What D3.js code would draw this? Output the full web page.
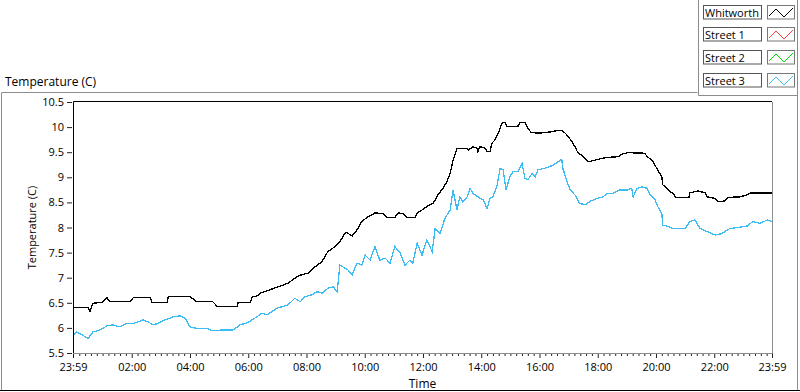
<!DOCTYPE html>
<html><head><meta charset="utf-8">
<script src="https://cdn.jsdelivr.net/npm/d3@7"></script>
<style>
body{margin:0;background:#fff}
svg{display:block;font-family:"Open Sans",sans-serif}
</style>
</head><body>
<svg id="c" width="800" height="392"></svg>
<script>
// minutes after 23:59 start, temperature (C)
const whitworth = [[0,6.41],[31,6.41],[35,6.33],[41,6.49],[60,6.51],[70,6.60],[76,6.52],[117,6.52],[124,6.60],[159,6.60],[163,6.50],[194,6.50],[196,6.62],[241,6.62],[247,6.58],[255,6.52],[288,6.52],[297,6.43],[338,6.43],[340,6.50],[365,6.50],[369,6.62],[381,6.64],[385,6.69],[400,6.74],[420,6.81],[443,6.89],[457,6.99],[468,7.05],[484,7.09],[498,7.21],[513,7.32],[525,7.52],[540,7.62],[550,7.72],[560,7.88],[564,7.90],[575,7.83],[585,7.95],[595,8.12],[606,8.20],[622,8.29],[639,8.28],[647,8.20],[663,8.20],[670,8.29],[680,8.28],[688,8.20],[705,8.20],[709,8.29],[721,8.36],[729,8.42],[742,8.48],[752,8.65],[762,8.78],[770,8.91],[777,9.08],[783,9.34],[791,9.58],[812,9.58],[814,9.54],[824,9.61],[832,9.58],[834,9.51],[838,9.61],[849,9.58],[853,9.51],[859,9.51],[863,9.68],[869,9.74],[876,9.88],[884,10.08],[890,10.09],[894,10.01],[917,10.02],[921,10.09],[931,10.09],[935,10.01],[944,9.89],[962,9.88],[989,9.91],[999,9.94],[1007,9.93],[1014,9.88],[1020,9.81],[1028,9.71],[1034,9.61],[1040,9.49],[1051,9.42],[1061,9.31],[1071,9.33],[1090,9.38],[1106,9.40],[1123,9.41],[1131,9.46],[1143,9.49],[1178,9.48],[1183,9.41],[1193,9.34],[1199,9.24],[1205,9.14],[1213,9.01],[1215,8.85],[1224,8.78],[1230,8.71],[1236,8.68],[1242,8.60],[1269,8.60],[1271,8.69],[1288,8.73],[1302,8.69],[1306,8.61],[1323,8.58],[1329,8.51],[1343,8.53],[1349,8.60],[1374,8.61],[1389,8.65],[1395,8.69],[1440,8.69]];
const street1 = [];
const street2 = [];
const street3 = [[0,5.86],[8,5.92],[19,5.86],[31,5.79],[41,5.92],[56,5.96],[70,6.04],[82,6.06],[97,6.02],[111,6.09],[124,6.09],[134,6.12],[144,6.16],[155,6.12],[165,6.06],[175,6.09],[190,6.16],[206,6.22],[220,6.24],[231,6.19],[241,6.02],[255,5.99],[276,5.99],[288,5.94],[309,5.96],[330,5.96],[344,6.06],[358,6.10],[371,6.17],[389,6.29],[400,6.26],[420,6.39],[443,6.46],[457,6.59],[468,6.52],[478,6.62],[492,6.66],[503,6.72],[513,6.69],[525,6.79],[536,6.82],[544,6.72],[550,7.25],[560,7.19],[567,7.15],[575,7.05],[585,7.29],[595,7.25],[602,7.45],[612,7.35],[622,7.62],[632,7.35],[643,7.39],[653,7.29],[663,7.62],[674,7.49],[684,7.25],[694,7.35],[700,7.29],[709,7.69],[719,7.45],[729,7.75],[740,7.52],[746,7.98],[756,7.88],[766,8.18],[777,8.35],[783,8.75],[791,8.35],[797,8.61],[803,8.51],[812,8.61],[818,8.78],[824,8.68],[834,8.61],[845,8.55],[853,8.38],[859,8.58],[865,8.61],[873,8.81],[880,9.18],[886,9.15],[892,8.75],[900,9.01],[906,9.11],[917,9.11],[925,9.28],[931,8.98],[937,8.95],[946,9.08],[952,9.01],[958,9.15],[972,9.18],[989,9.24],[1007,9.36],[1009,9.18],[1018,8.91],[1024,8.75],[1034,8.65],[1044,8.48],[1055,8.45],[1065,8.52],[1079,8.58],[1092,8.61],[1100,8.68],[1112,8.68],[1127,8.75],[1143,8.75],[1151,8.78],[1154,8.61],[1162,8.78],[1172,8.81],[1183,8.78],[1189,8.65],[1199,8.55],[1205,8.41],[1213,8.28],[1215,8.05],[1226,8.02],[1236,7.98],[1261,7.98],[1271,8.12],[1281,8.15],[1292,7.98],[1306,7.92],[1323,7.85],[1337,7.88],[1353,7.98],[1370,8.00],[1389,8.03],[1401,8.12],[1415,8.08],[1430,8.15],[1440,8.12]];

const seriesNames = ["Whitworth","Street 1","Street 2","Street 3"];
const seriesColors = ["#000000","#ff3c3c","#00dd00","#3dbcf4"];
const yTicks = [5.5,6,6.5,7,7.5,8,8.5,9,9.5,10,10.5];
const xTickLabels = ["23:59","02:00","04:00","06:00","08:00","10:00","12:00","14:00","16:00","18:00","20:00","22:00","23:59"];
const chartTitle = "Temperature (C)";
const yTitle = "Temperature (C)";
const xTitle = "Time";

const svg = d3.select("#c");
const L = 73, R = 772, T = 102, B = 353;
const x = d3.scaleLinear().domain([0,1440]).range([L,R]);
const y = d3.scaleLinear().domain([5.5,10.5]).range([B,T]);

// frames
const g0 = svg.append("g").attr("fill","none").attr("stroke","#8c8c8c").attr("stroke-width",1);
g0.append("path").attr("d","M1.5,391 V92.5 H697.5");
g0.append("path").attr("d","M698.5,0 V95.5 H797.5");
g0.append("path").attr("d","M797.5,0 V391");
svg.append("line").attr("x1",0).attr("x2",800).attr("y1",390.5).attr("y2",390.5).attr("stroke","#000");

// chart title
svg.append("text").attr("x",5).attr("y",86).attr("font-size",12).attr("fill","#000").text(chartTitle);

// plot bg
svg.append("rect").attr("x",L).attr("y",T).attr("width",R-L).attr("height",B-T).attr("fill","#fff");

// x ticks
const parseOff = (s,i) => {
  if (i === 0) return 0;
  if (i === xTickLabels.length-1) return 1440;
  const [h,m] = s.split(":").map(Number);
  return ((h*60+m) - (23*60+59) + 1440) % 1440;
};
const xMajor = xTickLabels.map(parseOff);
const xMinor = d3.range(1, 120).map(k => k*12 + 1).filter(v => v > 0 && v < 1440 && !xMajor.includes(v));

const gxMinor = svg.append("g").attr("transform",`translate(0,${B})`)
  .call(d3.axisBottom(x).tickValues(xMinor).tickSize(3).tickFormat(""));
gxMinor.select(".domain").remove();
gxMinor.selectAll("line").attr("stroke","#222");

const gx = svg.append("g").attr("transform",`translate(0,${B})`)
  .call(d3.axisBottom(x).tickValues(xMajor).tickSize(5).tickPadding(5).tickFormat((d,i)=>xTickLabels[i]));
gx.select(".domain").remove();
gx.selectAll("line").attr("stroke","#222");
gx.selectAll("text").attr("font-family","Open Sans").attr("font-size",11).attr("fill","#000");

// y ticks
const gy = svg.append("g").attr("transform",`translate(${L-1},0)`)
  .call(d3.axisLeft(y).tickValues(yTicks).tickSize(5).tickPadding(3).tickFormat(d=>String(d)));
gy.select(".domain").remove();
gy.selectAll("line").attr("stroke","#222");
gy.selectAll("text").attr("font-family","Open Sans").attr("font-size",11).attr("fill","#000");

// axis titles
svg.append("text").attr("transform",`translate(36,${(T+B)/2}) rotate(-90)`).attr("text-anchor","middle")
  .attr("font-size",11).attr("fill","#000").text(yTitle);
svg.append("text").attr("x",(L+R)/2).attr("y",388).attr("text-anchor","middle")
  .attr("font-size",12).attr("fill","#000").text(xTitle);

// lines
svg.append("clipPath").attr("id","clip").append("rect").attr("x",L).attr("y",T).attr("width",R-L).attr("height",B-T);
const line = d3.line().x(d=>x(d[0])).y(d=>y(d[1]));
const gl = svg.append("g").attr("clip-path","url(#clip)");
const allSeries = [whitworth, street1, street2, street3];
[1,2,3,0].forEach(i => {
  if (allSeries[i].length) gl.append("path").datum(allSeries[i]).attr("d",line)
    .attr("fill","none").attr("stroke",seriesColors[i]).attr("stroke-width",1.3)
    .attr("shape-rendering","crispEdges");
});

// plot borders
svg.append("path").attr("d",`M${L+0.5},${B} V${T-0.5} H${R}`).attr("fill","none").attr("stroke","#000");
svg.append("path").attr("d",`M${L},${B+0.5} H${R+0.5} V${T}`).attr("fill","none").attr("stroke","#8c8c8c");

// legend
const rowY = [5,27,50,73];
const lg = svg.append("g");
seriesNames.forEach((n,i)=>{
  const yy = rowY[i];
  lg.append("rect").attr("x",703.5).attr("y",yy+0.5).attr("width",58).attr("height",13.5)
    .attr("fill","#fff").attr("stroke","#555");
  lg.append("text").attr("x",705).attr("y",yy+11.5).attr("font-size",11).attr("fill","#000").text(n);
  lg.append("rect").attr("x",767.5).attr("y",yy+0.5).attr("width",27).attr("height",13.5)
    .attr("fill","#fff").attr("stroke","#777");
  const ix = 767, iy = yy;
  lg.append("path").attr("d",`M${ix+2},${iy+11} L${ix+9},${iy+4} L${ix+17},${iy+12} L${ix+26},${iy+3}`)
    .attr("fill","none").attr("stroke",seriesColors[i]).attr("stroke-width",1);
});
</script>
</body></html>
